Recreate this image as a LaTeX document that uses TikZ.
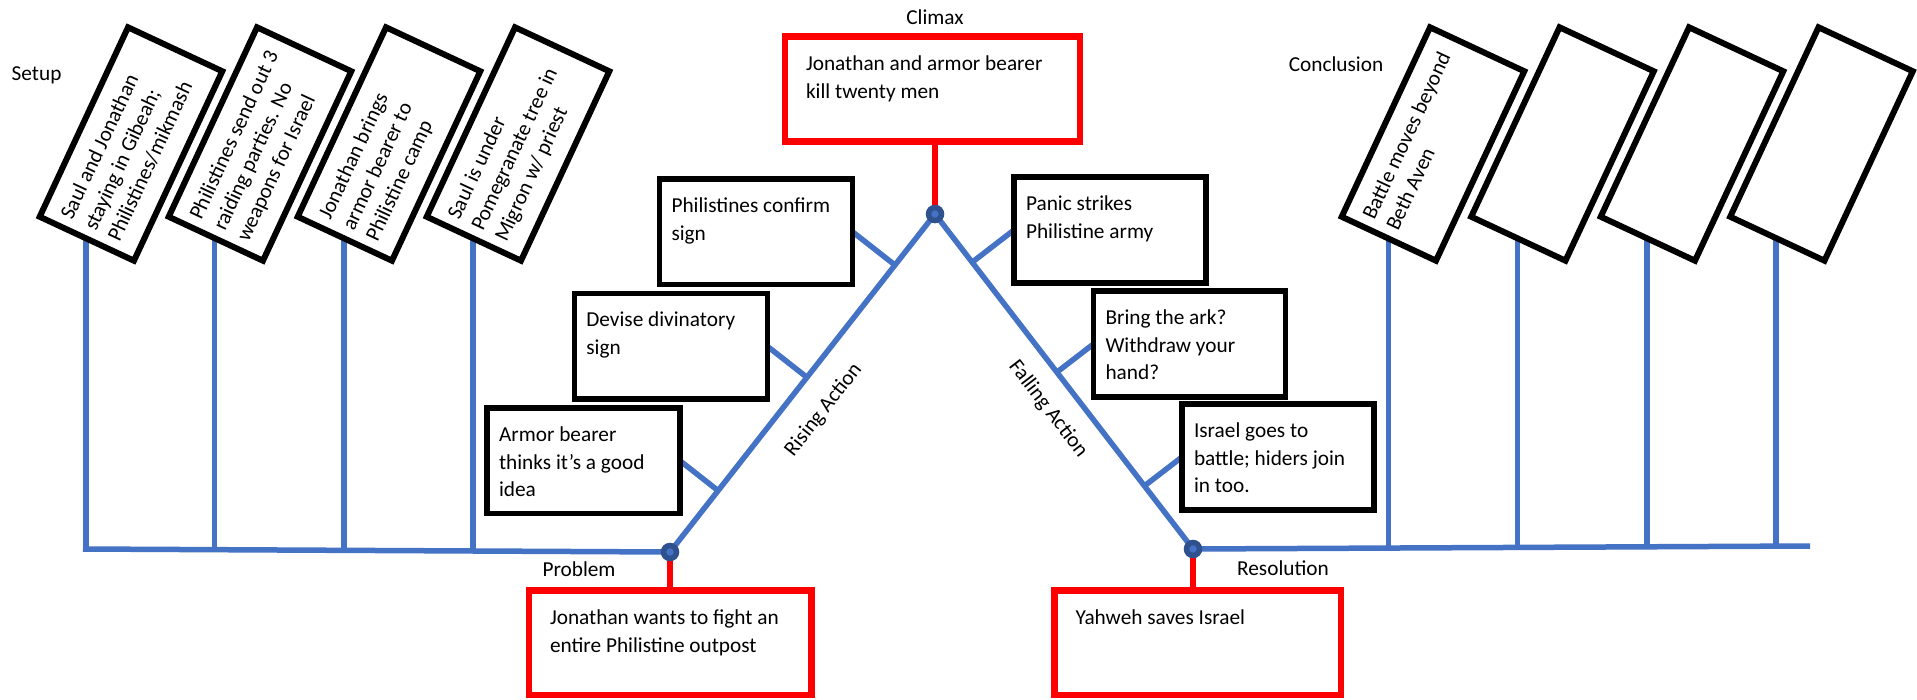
\documentclass[tikz,border=0pt]{standalone}
\usepackage{fontspec}
\setmainfont{Carlito}
\usepackage{tikz}
\usetikzlibrary{calc,backgrounds}

\definecolor{linieblau}{HTML}{4472C4}
\definecolor{punktblau}{HTML}{2F528F}
\definecolor{rahmenrot}{HTML}{FF0000}

% Text oben links im Kasten
\newcommand{\kartentext}[3]{\parbox[b][#2pt][t]{#1pt}{\raggedright\strut #3}}

\tikzset{
  linie/.style={draw=linieblau, line width=5.5pt},
  stiel/.style={draw=rahmenrot, line width=6pt},
  punkt/.style={circle, fill=linieblau, draw=punktblau, line width=5.5pt, minimum size=13pt, inner sep=0pt},
  rotbox/.style={draw=rahmenrot, line width=6.5pt, fill=white, anchor=north west, outer sep=0pt, inner xsep=21pt, inner ysep=14.5pt},
  schwarzbox/.style={draw=black, line width=5.5pt, fill=white, anchor=north west, outer sep=0pt, inner xsep=12pt, inner ysep=14pt},
  schildbox/.style={draw=black, line width=6pt, fill=white, rotate=65, outer sep=0pt, inner xsep=10pt, inner ysep=13.3pt, font=\fontsize{21.3}{26}\selectfont},
  marke/.style={anchor=base, inner sep=0pt},
}

\begin{document}
\begin{tikzpicture}[x=1pt, y=-1pt, font=\fontsize{21.3}{27.7}\selectfont]
\useasboundingbox (0,0) rectangle (1917,699);

% Wendepunkte
\node[punkt] (problem) at (670,552) {};
\node[punkt] (climax) at (935,214) {};
\node[punkt] (resolution) at (1193,549) {};
\coordinate (setupstart) at (83,549);
\coordinate (conclusionend) at (1810,546);

% rote Kaesten
\node[rotbox] (climaxbox) at (785,36.7) {\kartentext{253}{76}{Jonathan and armor bearer\\kill twenty men}};
\node[rotbox] (problembox) at (529,590.5) {\kartentext{240.5}{75.5}{Jonathan wants to fight an\\entire Philistine outpost}};
\node[rotbox] (resolutionbox) at (1054.5,590.5) {\kartentext{244.5}{75.5}{Yahweh saves Israel}};

% Kaesten an der steigenden Handlung
\node[schwarzbox] (confirm) at (659.5,179) {\kartentext{169}{77.5}{Philistines confirm\\sign}};
\node[schwarzbox] (devise) at (574.3,293.5) {\kartentext{169}{77.5}{Devise divinatory\\sign}};
\node[schwarzbox] (armor) at (487,408) {\kartentext{169}{77.5}{Armor bearer\\thinks it’s a good\\idea}};

% Kaesten an der fallenden Handlung
\node[schwarzbox] (panic) at (1014,177) {\kartentext{168}{78}{Panic strikes\\Philistine army}};
\node[schwarzbox] (ark) at (1093.5,291) {\kartentext{168}{78}{Bring the ark?\\Withdraw your\\hand?}};
\node[schwarzbox] (battle) at (1182,404) {\kartentext{168}{78}{Israel goes to\\battle; hiders join\\in too.}};

% schraege Schilder
\node[schildbox] (setup1) at (131,144) {\kartentext{189}{77.4}{Saul and Jonathan\\staying in Gibeah;\\Philistines/mikmash}};
\node[schildbox] (setup2) at (260,144) {\kartentext{189}{77.4}{Philistines send out 3\\raiding parties. No\\weapons for Israel}};
\node[schildbox] (setup3) at (389,144) {\kartentext{189}{77.4}{Jonathan brings\\armor bearer to\\Philistine camp}};
\node[schildbox] (setup4) at (518,144) {\kartentext{189}{77.4}{Saul is under\\Pomegranate tree in\\Migron w/ priest}};
\node[schildbox] (concl1) at (1433,144) {\kartentext{189}{77.4}{Battle moves beyond\\Beth Aven}};
\node[schildbox] (concl2) at (1562.5,144) {\kartentext{189}{77.4}{}};
\node[schildbox] (concl3) at (1692,144) {\kartentext{189}{77.4}{}};
\node[schildbox] (concl4) at (1821.5,144) {\kartentext{189}{77.4}{}};

% Beschriftungen
\node[marke] (setuplabel) at (36.6,80) {Setup};
\node[marke] (climaxlabel) at (935,24) {Climax};
\node[marke] (conclusionlabel) at (1336,71) {Conclusion};
\node[marke] (problemlabel) at (579,576) {Problem};
\node[marke] (resolutionlabel) at (1283,575) {Resolution};

\begin{scope}[on background layer]
  \draw[linie] (setupstart) -- (problem.center) -- (climax.center) -- (resolution.center) -- (conclusionend);
  \path (problem) -- (climax) node[sloped, pos=0.48, below=24pt, inner sep=0pt] (rising) {Rising Action};
  \path (climax) -- (resolution) node[sloped, pos=0.53, below=20pt, inner sep=0pt] (falling) {Falling Action};

  \foreach \n/\x/\y in {1/86/549.5, 2/214.6/550.2, 3/344/550.8, 4/473/551.5}
    \draw[linie] (\x,\y) coordinate (fuss\n) -- (fuss\n |- setup\n.center);
  \foreach \n/\x/\y in {1/1388.5/548, 2/1517.6/547.4, 3/1647/546.8, 4/1776/546.2}
    \draw[linie] (\x,\y) coordinate (ende\n) -- (ende\n |- concl\n.center);

  \foreach \b in {confirm,devise,armor}
    \draw[linie] (\b.east) -- ($(problem)!(\b.east)!(climax)$);
  \foreach \b in {panic,ark,battle}
    \draw[linie] (\b.west) -- ($(climax)!(\b.west)!(resolution)$);

  \draw[stiel] (climax.center) -- (climax |- climaxbox.south);
  \draw[stiel] (problem.center) -- (problem |- problembox.north);
  \draw[stiel] (resolution.center) -- (resolution |- resolutionbox.north);
\end{scope}
\end{tikzpicture}
\end{document}
